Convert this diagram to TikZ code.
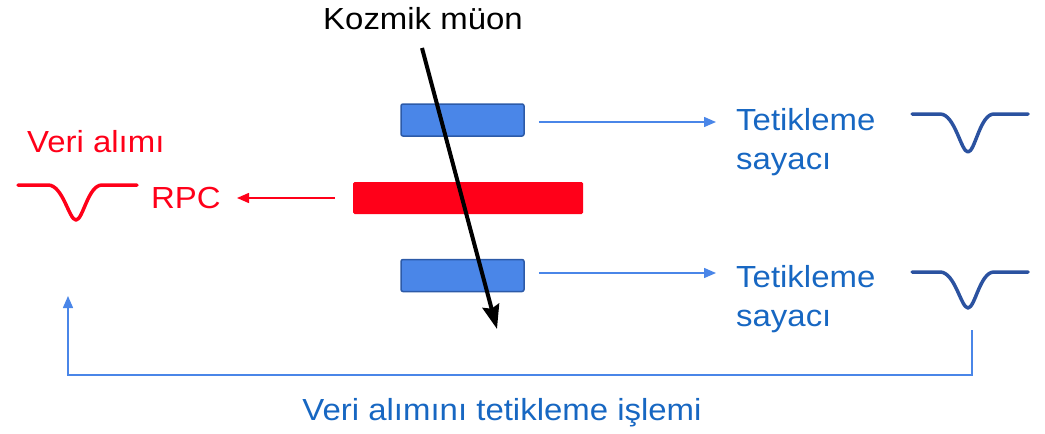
\documentclass[tikz,border=0pt]{standalone}
\usepackage{fontspec}
\setmainfont[FakeStretch=1.08]{Liberation Sans}
\usetikzlibrary{arrows.meta}
\definecolor{trigblue}{HTML}{4A86E8}
\definecolor{boxedge}{HTML}{2C5AA8}
\definecolor{txtblue}{HTML}{1767C2}
\definecolor{waveblue}{HTML}{2B52A0}
\definecolor{rpcred}{HTML}{FF0019}
\tikzset{
  lbl/.style={inner sep=0pt, anchor=base west, font=\fontsize{30.5}{39}\selectfont},
  counter/.style={draw=boxedge, line width=1.5pt, fill=trigblue, rounded corners=2pt,
                  minimum width=123pt, minimum height=32pt, inner sep=0pt},
  rpcbar/.style={fill=rpcred, rounded corners=1.5pt, minimum width=230pt,
                 minimum height=32pt, inner sep=0pt},
  sig/.style={line width=1.5pt, -{Triangle[length=12pt,width=10pt]}},
  pulse/.style={line width=3.5pt, line cap=round, line join=round},
}
\begin{document}
\begin{tikzpicture}[x=1pt,y=-1pt]
\useasboundingbox (0,0) rectangle (1045,434);

% scintillator counters and the RPC
\node[counter] (c1) at (462.5,120) {};
\node[counter] (c2) at (462.5,275.5) {};
\node[rpcbar] (rpc) at (468,198) {};

% labels
\node[lbl, anchor=base] (muon) at (423,29) {Kozmik müon};
\node[lbl, text=rpcred] (daq) at (27,152) {Veri alımı};
\node[lbl, text=rpcred] (rpctxt) at (151,208) {RPC};
\node[lbl, text=txtblue] (t1) at (736,130) {Tetikleme};
\node[lbl, text=txtblue] (s1) at (736,169) {sayacı};
\node[lbl, text=txtblue] (t2) at (736,287) {Tetikleme};
\node[lbl, text=txtblue] (s2) at (736,326) {sayacı};
\node[lbl, text=txtblue, anchor=base] (proc) at (502,420) {Veri alımını tetikleme işlemi};

% arrow end points
\coordinate (m0) at (422,48);
\coordinate (m1) at (497,329);
\coordinate (e1) at (716,122);
\coordinate (e2) at (716,273);
\coordinate (er) at (237,198);
\coordinate (f0) at (972,330);
\coordinate (f1) at (972,375);
\coordinate (f2) at (68,375);
\coordinate (f3) at (68,296);

% counter signals to the trigger
\draw[sig, trigblue] ([xshift=14pt]c1.east |- e1) -- (e1);
\draw[sig, trigblue] ([xshift=14pt]c2.east |- e2) -- (e2);
% RPC readout
\draw[sig, rpcred] ([xshift=-18pt]rpc.west) -- (er);
% trigger feedback loop
\draw[sig, trigblue] (f0) -- (f1) -- (f2) -- (f3);

% muon track
\draw[line width=4pt, -{Stealth[length=24pt,width=17pt,inset=3pt]}] (m0) -- (m1);

% pulse shapes
\draw[pulse, waveblue] (912,114) -- (940,114)
  .. controls (955,114) and (961,152) .. (968,152)
  .. controls (975,152) and (980,114) .. (994,114) -- (1028,114);
\draw[pulse, waveblue] (912,272) -- (940,272)
  .. controls (955,272) and (961,308) .. (968,308)
  .. controls (975,308) and (980,272) .. (994,272) -- (1028,272);
\draw[pulse, rpcred] (18,185) -- (48,185)
  .. controls (63,185) and (69,220) .. (76,220)
  .. controls (83,220) and (88,185) .. (102,185) -- (137,185);
\end{tikzpicture}
\end{document}
